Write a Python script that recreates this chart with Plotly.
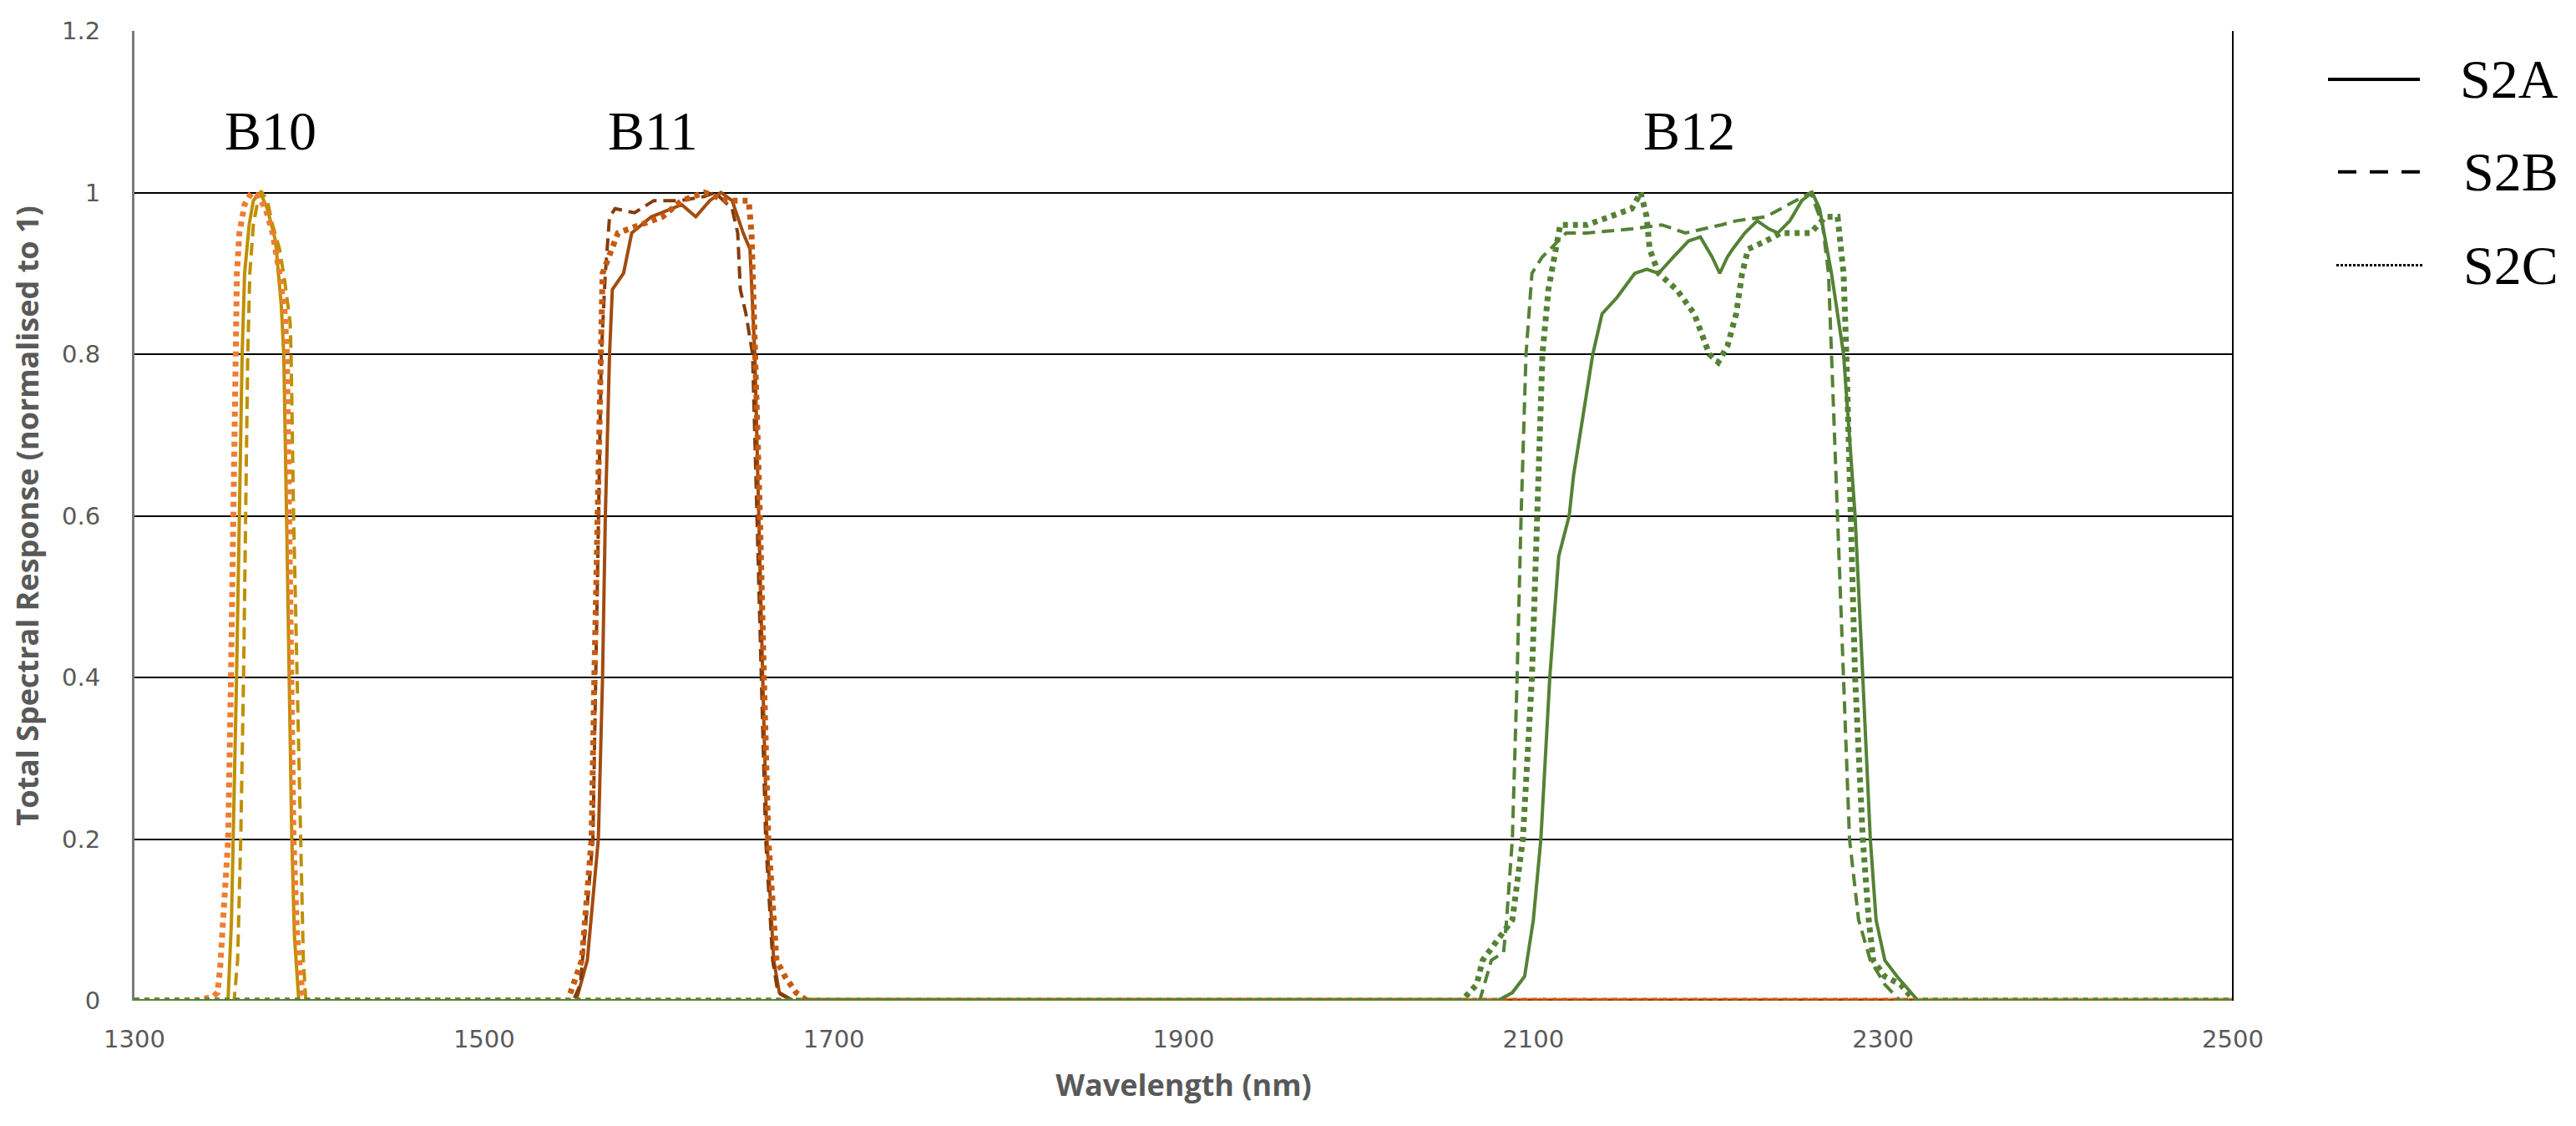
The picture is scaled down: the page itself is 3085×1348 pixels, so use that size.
import plotly.graph_objects as go

# ---------------- data ----------------
X_MIN, X_MAX = 1300, 2500

# B10
b10_s2a_wl = [1300, 1353.5, 1355.5, 1356.5, 1358.4, 1360, 1361.6, 1363, 1365.6, 1368, 1372, 1376, 1380.7, 1384, 1385.4, 1387, 1388.6, 1390, 1391.5, 1394, 2500]
b10_s2a_v = [0, 0, 0.1, 0.2, 0.4, 0.6, 0.8, 0.9, 0.96, 0.99, 1.0, 0.98, 0.94, 0.86, 0.8, 0.6, 0.4, 0.2, 0.08, 0, 0]
b10_s2b_wl = [1300, 1357, 1359, 1360.8, 1362.4, 1363.6, 1364.8, 1366, 1368, 1371, 1373, 1376, 1379, 1383, 1386, 1389, 1389.6, 1391, 1393, 1395, 1396.6, 1398, 2500]
b10_s2b_v = [0, 0, 0.05, 0.2, 0.4, 0.6, 0.8, 0.9, 0.96, 0.995, 1.0, 0.99, 0.96, 0.93, 0.89, 0.84, 0.8, 0.6, 0.4, 0.2, 0.05, 0, 0]
b10_s2c_wl = [1300, 1335, 1345, 1347.5, 1349, 1351, 1353.6, 1355.2, 1356.8, 1357.6, 1358.6, 1360, 1363, 1367, 1371, 1375, 1379, 1383, 1386, 1387.2, 1388.4, 1389.4, 1391, 1393, 1396, 1399, 2500]
b10_s2c_v = [0, 0, 0.005, 0.01, 0.04, 0.1, 0.2, 0.4, 0.6, 0.8, 0.9, 0.95, 0.985, 1.0, 0.995, 0.98, 0.95, 0.9, 0.85, 0.8, 0.6, 0.4, 0.2, 0.08, 0.01, 0, 0]

# B11
b11_s2a_wl = [1300, 1552.6, 1559, 1565.3, 1567.7, 1569.3, 1571.7, 1573.3, 1579.7, 1584.4, 1595.6, 1606.7, 1613, 1621, 1629, 1635.4, 1641.8, 1648.1, 1652, 1654.8, 1656.9, 1659.3, 1661.7, 1665.6, 1668.8, 1676.8, 2500]
b11_s2a_v = [0, 0, 0.05, 0.2, 0.4, 0.6, 0.8, 0.88, 0.9, 0.95, 0.97, 0.98, 0.985, 0.97, 0.99, 1.0, 0.99, 0.95, 0.93, 0.8, 0.6, 0.4, 0.2, 0.05, 0.01, 0, 0]
b11_s2b_wl = [1300, 1551, 1555, 1562.2, 1563.8, 1565.3, 1567, 1569.3, 1571.7, 1574.9, 1586, 1597, 1612, 1625.8, 1632, 1641.8, 1645, 1646.5, 1649.7, 1653.5, 1656, 1658.5, 1661, 1665, 1668, 1676, 2500]
b11_s2b_v = [0, 0, 0.02, 0.2, 0.4, 0.6, 0.8, 0.9, 0.97, 0.98, 0.975, 0.99, 0.99, 0.995, 1.0, 0.98, 0.95, 0.88, 0.85, 0.8, 0.6, 0.4, 0.2, 0.05, 0.01, 0, 0]
b11_s2c_wl = [1300, 1547.8, 1555.8, 1561.4, 1563, 1564.6, 1566.1, 1567.7, 1576.5, 1589, 1602, 1613, 1626, 1638.6, 1651.3, 1652.9, 1655.3, 1657.7, 1660, 1662.5, 1667.2, 1672, 1678.4, 1684.7, 2500]
b11_s2c_v = [0, 0, 0.05, 0.2, 0.4, 0.6, 0.8, 0.9, 0.95, 0.96, 0.97, 0.99, 1.0, 0.99, 0.99, 0.95, 0.8, 0.6, 0.4, 0.2, 0.05, 0.03, 0.01, 0, 0]

# B12
b12_s2a_wl = [1300, 2079.6, 2088, 2095, 2100, 2104.3, 2109.4, 2112.8, 2114.5, 2120.5, 2123, 2134, 2139.3, 2147.8, 2158, 2164.8, 2171.6, 2180, 2188.7, 2195.5, 2202.3, 2206.6, 2210.9, 2214, 2221, 2228, 2234.7, 2239.8, 2246.7, 2253.5, 2259.5, 2263.7, 2270.5, 2277.4, 2284, 2288.4, 2292.7, 2296, 2301, 2308, 2320, 2500]
b12_s2a_v = [0, 0, 0.01, 0.03, 0.1, 0.2, 0.4, 0.5, 0.55, 0.6, 0.65, 0.8, 0.85, 0.87, 0.9, 0.905, 0.9, 0.92, 0.94, 0.945, 0.92, 0.9, 0.92, 0.93, 0.95, 0.965, 0.955, 0.95, 0.965, 0.99, 1.0, 0.98, 0.9, 0.8, 0.6, 0.4, 0.2, 0.1, 0.05, 0.03, 0, 0]
b12_s2b_wl = [1300, 2069.3, 2076, 2083, 2084.7, 2088, 2090.7, 2093, 2095.8, 2099.2, 2105, 2118.8, 2130.7, 2156.3, 2173.4, 2187, 2207.5, 2216, 2233, 2250, 2258.6, 2265.4, 2268.8, 2270.5, 2274, 2277.4, 2280.8, 2286, 2292.7, 2301, 2309.7, 2500]
b12_s2b_v = [0, 0, 0.05, 0.06, 0.1, 0.2, 0.4, 0.6, 0.8, 0.9, 0.92, 0.95, 0.95, 0.955, 0.96, 0.95, 0.96, 0.965, 0.97, 0.99, 1.0, 0.96, 0.9, 0.8, 0.6, 0.4, 0.2, 0.1, 0.05, 0.02, 0, 0]
b12_s2c_wl = [1300, 2059, 2067.6, 2071, 2088, 2094, 2099.2, 2102.6, 2105.2, 2108.6, 2112, 2115.4, 2130.7, 2144.4, 2156.3, 2161.4, 2164.8, 2166.5, 2171.6, 2181.9, 2192, 2200.6, 2205.7, 2211, 2216, 2219.4, 2222.8, 2233, 2241.6, 2258.6, 2267, 2274, 2277.4, 2279, 2281.6, 2284, 2288.4, 2291.8, 2294.4, 2301, 2310, 2318, 2500]
b12_s2c_v = [0, 0, 0.02, 0.05, 0.1, 0.2, 0.4, 0.6, 0.8, 0.88, 0.92, 0.96, 0.96, 0.97, 0.98, 1.0, 0.97, 0.93, 0.9, 0.88, 0.85, 0.8, 0.79, 0.81, 0.85, 0.9, 0.93, 0.94, 0.95, 0.95, 0.97, 0.97, 0.9, 0.8, 0.6, 0.4, 0.2, 0.1, 0.05, 0.03, 0.02, 0, 0]

band_labels = ["B10", "B11", "B12"]
band_label_x = [1377.8, 1596.6, 2189]
band_label_y = 1.076

sensors = ["S2A", "S2B", "S2C"]
x_ticks = [1300, 1500, 1700, 1900, 2100, 2300, 2500]
y_ticks = [0, 0.2, 0.4, 0.6, 0.8, 1.0, 1.2]

# ---------------- styles ----------------
STY = {
    "S2A": dict(dash="solid", width=4),
    "S2B": dict(dash="15px,8px", width=4),
    "S2C": dict(dash="6px,6px", width=7),
}
series = [
    ("B10", "S2A", b10_s2a_wl, b10_s2a_v, "#BF9000"),
    ("B10", "S2B", b10_s2b_wl, b10_s2b_v, "#BF9000"),
    ("B10", "S2C", b10_s2c_wl, b10_s2c_v, "#ED7D31"),
    ("B11", "S2A", b11_s2a_wl, b11_s2a_v, "#A24B0F"),
    ("B11", "S2B", b11_s2b_wl, b11_s2b_v, "#843C0C"),
    ("B11", "S2C", b11_s2c_wl, b11_s2c_v, "#C55A11"),
    ("B12", "S2A", b12_s2a_wl, b12_s2a_v, "#548235"),
    ("B12", "S2B", b12_s2b_wl, b12_s2b_v, "#548235"),
    ("B12", "S2C", b12_s2c_wl, b12_s2c_v, "#548235"),
]

fig = go.Figure()
for band, sen, wl, v, col in series:
    st = STY[sen]
    fig.add_trace(go.Scatter(
        x=wl, y=v, mode="lines", name=f"{band} {sen}",
        line=dict(color=col, width=st["width"], dash=st["dash"]),
        showlegend=False, hoverinfo="x+y+name",
    ))

# page body has an 8px default margin -> compensate so the plot lands where the reference has it
OFF = 8
W, H = 3085 - 2 * OFF, 1348 - 2 * OFF
PL, PR, PT, PB = 161, 2674, 35, 1198          # target plot-area box in screen pixels
ML, MT = PL - OFF, PT - OFF
MR = W - ML - (PR - PL)
MB = H - MT - (PB - PT)

fig.update_layout(
    width=W, height=H,
    margin=dict(l=ML, r=MR, t=MT, b=MB, pad=0),
    paper_bgcolor="white", plot_bgcolor="white",
    showlegend=False,
)
fig.update_xaxes(
    range=[X_MIN, X_MAX], tickvals=x_ticks, ticks="",
    showgrid=False, zeroline=False, showline=False,
    tickfont=dict(family="DejaVu Sans", size=29, color="#595959"),
    ticklabelstandoff=26,
    title=dict(text="Wavelength (nm)", standoff=26,
               font=dict(family="Open Sans", size=36, color="#595959", weight="bold")),
)
fig.update_yaxes(
    range=[0, 1.2], tickvals=y_ticks, ticks="",
    showgrid=True, gridcolor="#000000", gridwidth=2,
    zeroline=False, showline=True, linecolor="#7a7a7a", linewidth=3,
    tickfont=dict(family="DejaVu Sans", size=29, color="#595959"),
    ticklabelstandoff=32,
    title=dict(text="Total Spectral Response (normalised to 1)", standoff=18,
               font=dict(family="Open Sans", size=36, color="#595959", weight="bold")),
)

# right border of plot area
fig.add_shape(type="line", xref="paper", yref="paper", x0=1, x1=1, y0=0, y1=1,
              line=dict(color="#000000", width=2))

# band labels
for lab, bx in zip(band_labels, band_label_x):
    fig.add_annotation(x=bx, y=band_label_y, xref="x", yref="y", text=lab,
                       showarrow=False,
                       font=dict(family="Liberation Serif", size=66, color="#000000"))

# manual legend (black line samples), positions in screen pixels
plot_w = PR - PL
plot_h = PB - PT
def px2paper_x(px):
    return (px - PL) / plot_w
def px2paper_y(py):
    return (PB - py) / plot_h

leg = [
    ("S2A", 93, 2788, 2898, dict(color="black", width=4, dash="solid")),
    ("S2B", 204, 2800, 2900, dict(color="black", width=4, dash="22px,16px")),
    ("S2C", 316, 2798, 2903, dict(color="black", width=3, dash="3px,2px")),
]
for name, ly, lx0, lx1, lst in leg:
    yy = px2paper_y(ly)
    fig.add_shape(type="line", xref="paper", yref="paper",
                  x0=px2paper_x(lx0), x1=px2paper_x(lx1), y0=yy, y1=yy, line=lst)
    fig.add_annotation(x=px2paper_x(3066), y=yy, xref="paper", yref="paper",
                       xanchor="right", yanchor="middle", text=name, showarrow=False,
                       font=dict(family="Liberation Serif", size=66, color="#000000"))

fig.write_html("out.html")
